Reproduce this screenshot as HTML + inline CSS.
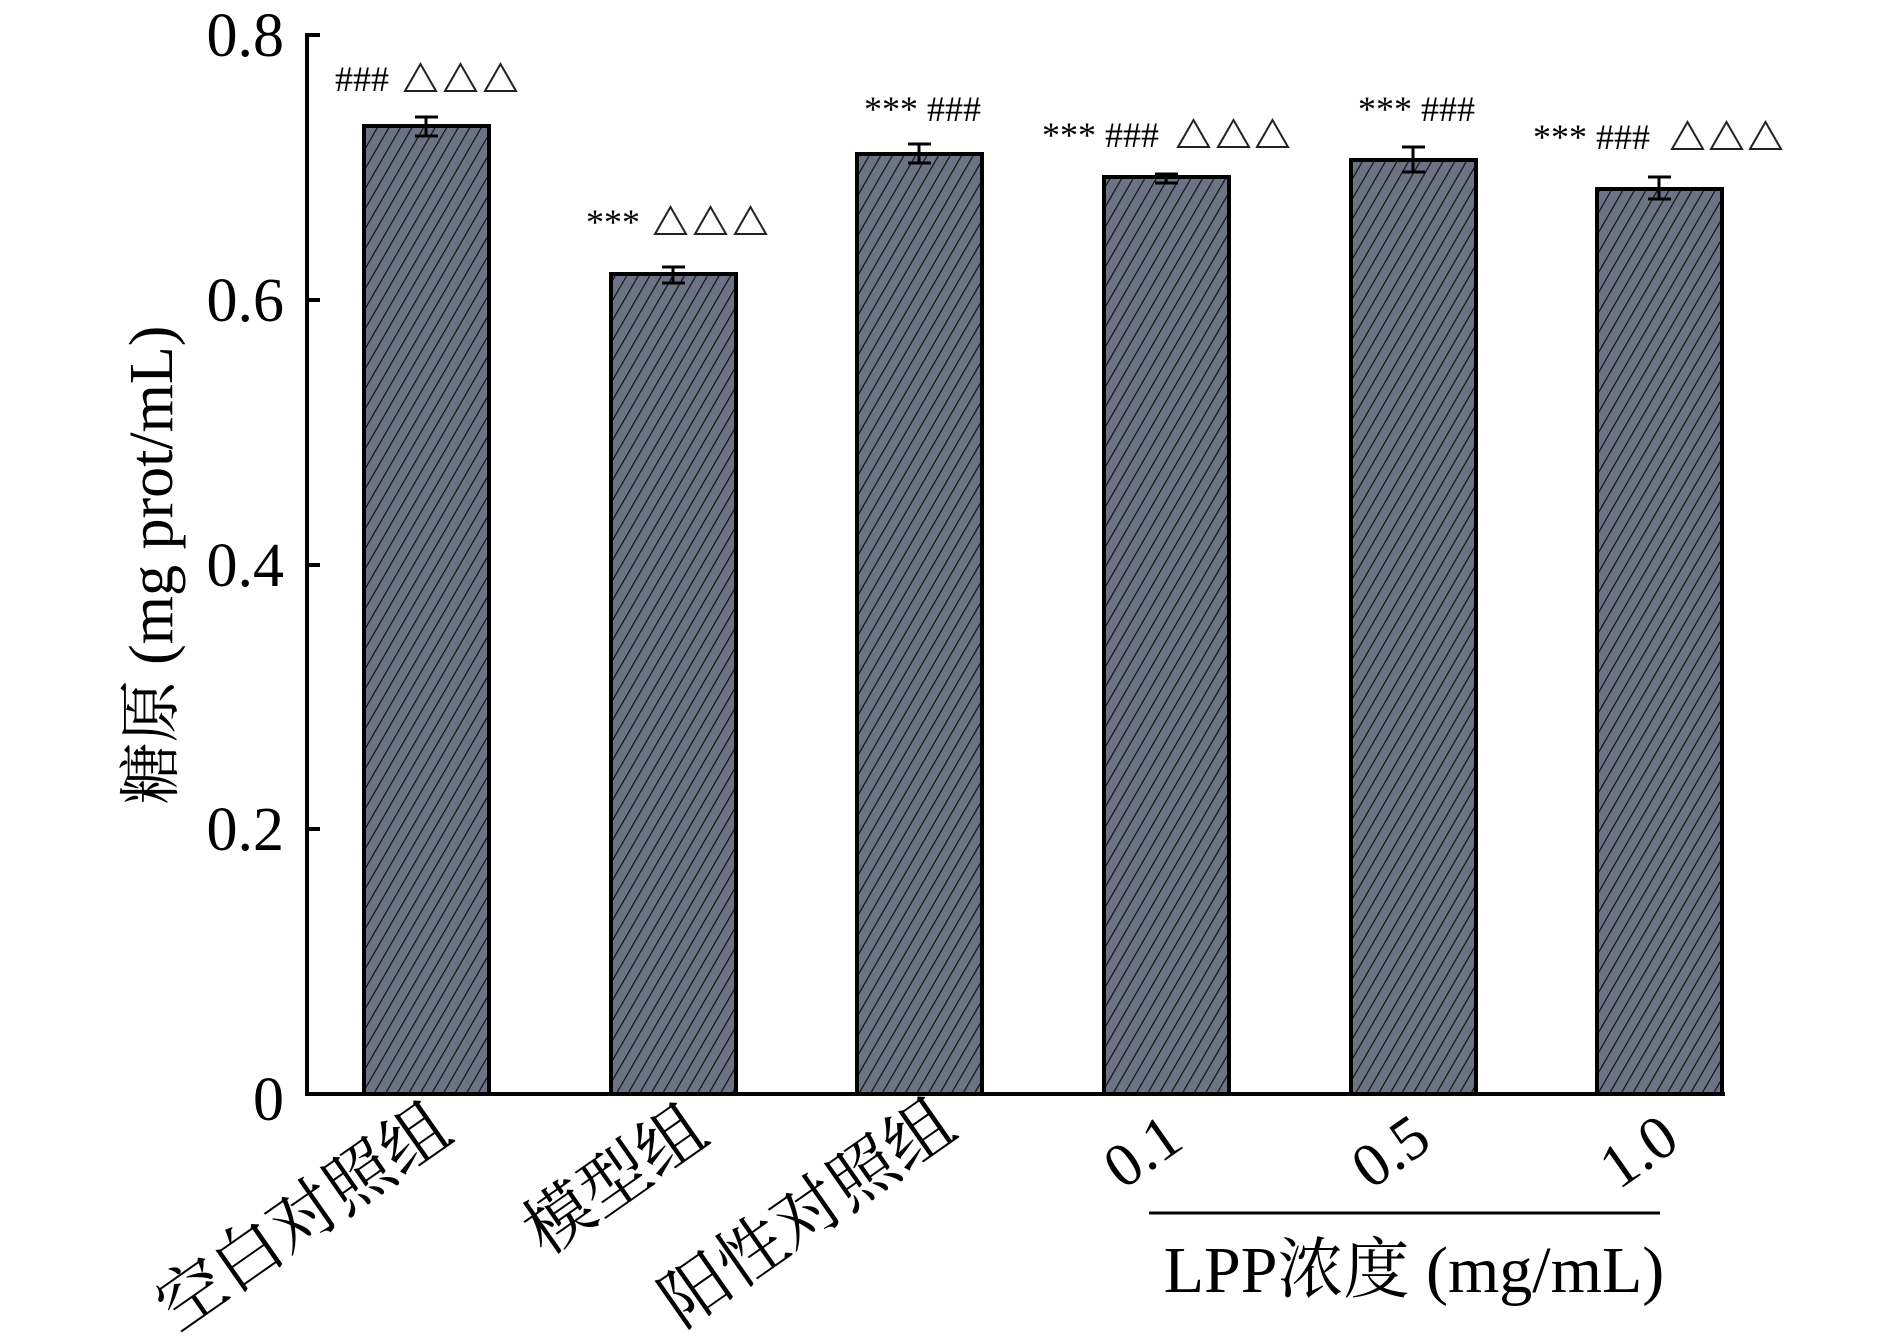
<!DOCTYPE html>
<html><head><meta charset="utf-8"><style>html,body{margin:0;padding:0;background:#fff}svg{display:block}</style></head>
<body>
<svg width="1890" height="1336" viewBox="0 0 1890 1336" xmlns="http://www.w3.org/2000/svg">
<defs>
<pattern id="h" patternUnits="userSpaceOnUse" width="10" height="10" patternTransform="rotate(30)">
<rect width="10" height="10" fill="#6b7384"/>
<line x1="0" y1="0" x2="0" y2="10" stroke="#111" stroke-width="2.4"/>
</pattern>
<g id="tri"><polygon points="0,0 15.5,-27 31,0" fill="none" stroke="#222" stroke-width="2"/></g>
</defs>
<g font-family="'Liberation Serif','Noto Serif CJK SC',serif" fill="#000">
<g stroke="#000" stroke-width="4" fill="url(#h)">
<rect x="364" y="126" width="125" height="968"/>
<rect x="611" y="274" width="125" height="820"/>
<rect x="857" y="154" width="125" height="940"/>
<rect x="1104" y="177" width="125" height="917"/>
<rect x="1351" y="160" width="125" height="934"/>
<rect x="1597" y="189" width="125" height="905"/>
</g>
<g stroke="#000" stroke-width="3">
<path d="M426 117V136M415 117H438M415 136H438"/>
<path d="M673 267V283M662 267H685M662 283H685"/>
<path d="M919 144V163M908 144H931M908 163H931"/>
<path d="M1166 174V183M1155 174H1178M1155 183H1178"/>
<path d="M1413 147V172M1402 147H1425M1402 172H1425"/>
<path d="M1659 177V199M1648 177H1671M1648 199H1671"/>
</g>
<g stroke="#000" stroke-width="4" fill="none">
<path d="M307 33V1094H1725"/>
<path d="M307 35H320M307 300H320M307 565H320M307 829H320"/>
</g>
<g font-size="62" text-anchor="end">
<text x="284" y="56">0.8</text>
<text x="284" y="321">0.6</text>
<text x="284" y="586">0.4</text>
<text x="284" y="850">0.2</text>
<text x="284" y="1120">0</text>
</g>
<text transform="translate(172,565) rotate(-90)" text-anchor="middle" font-size="62">糖原 (mg prot/mL)</text>
<g font-size="36">
<text x="335" y="91">###</text>
<use href="#tri" x="405" y="91"/><use href="#tri" x="445" y="91"/><use href="#tri" x="485" y="91"/>
<text x="586" y="234">***</text>
<use href="#tri" x="655" y="234"/><use href="#tri" x="695" y="234"/><use href="#tri" x="735" y="234"/>
<text x="864" y="121">*** ###</text>
<text x="1042" y="147">*** ###</text>
<use href="#tri" x="1178" y="147"/><use href="#tri" x="1218" y="147"/><use href="#tri" x="1257" y="147"/>
<text x="1358" y="121">*** ###</text>
<text x="1533" y="149">*** ###</text>
<use href="#tri" x="1672" y="149"/><use href="#tri" x="1711" y="149"/><use href="#tri" x="1750" y="149"/>
</g>
<g font-size="68" text-anchor="end">
<text transform="translate(456,1138) rotate(-35)">空白对照组</text>
<text transform="translate(712,1140) rotate(-35)">模型组</text>
<text transform="translate(960,1134) rotate(-35)">阳性对照组</text>
</g>
<g font-size="62" text-anchor="end">
<text transform="translate(1186,1146) rotate(-35)">0.1</text>
<text transform="translate(1434,1146) rotate(-35)">0.5</text>
<text transform="translate(1682,1146) rotate(-35)">1.0</text>
</g>
<path d="M1149 1213H1660" stroke="#000" stroke-width="3"/>
<text x="1414" y="1292" font-size="66" text-anchor="middle">LPP浓度 (mg/mL)</text>
</g>
</svg>
</body></html>
